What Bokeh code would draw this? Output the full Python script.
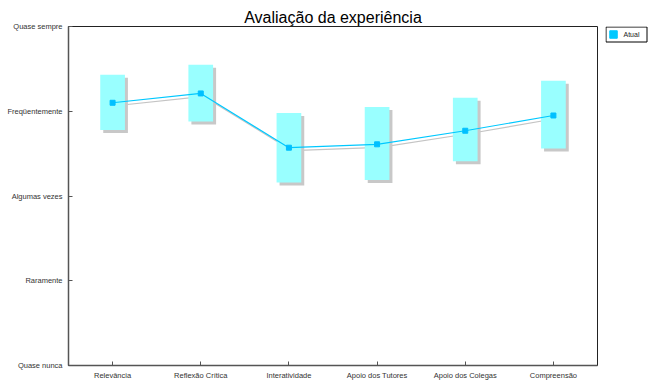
from bokeh.plotting import figure
from bokeh.layouts import row
from bokeh.models import ColumnDataSource, FactorRange, Range1d, FixedTicker
from bokeh.core.properties import value
from bokeh.transform import dodge
from bokeh.embed import file_html
from bokeh.resources import INLINE

categories = ["Relevância", "Reflexão Crítica", "Interatividade",
              "Apoio dos Tutores", "Apoio dos Colegas", "Compreensão"]
mean_values = [4.10, 4.21, 3.57, 3.61, 3.77, 3.95]
upper_values = [4.43, 4.55, 3.98, 4.05, 4.16, 4.36]
lower_values = [3.78, 3.88, 3.16, 3.19, 3.41, 3.56]
y_tick_values = [1, 2, 3, 4, 5]
y_tick_labels = ["Quase nunca", "Raramente", "Algumas vezes", "Freqüentemente", "Quase sempre"]
series_name = "Atual"

H = 389
FW, FH = 529, 339
LEFT, TOP = 68, 26
W1 = LEFT + FW + 8
W2 = 648 - W1

p = figure(width=W1, height=H, x_range=FactorRange(*categories), y_range=Range1d(1, 5),
           output_backend="svg", toolbar_location=None,
           title="Avaliação da experiência",
           min_border_left=LEFT, min_border_right=W1 - LEFT - FW, min_border_top=TOP,
           min_border_bottom=H - TOP - FH)
p.title.align = "center"
p.title.text_font = "Liberation Sans"
p.title.text_font_size = "16px"
p.title.text_font_style = "normal"
p.title.text_color = "#000000"
p.title.standoff = 1

src = ColumnDataSource(dict(cat=categories, mean=mean_values,
                            upper=upper_values, lower=lower_values))

dx = 3 / (FW / 6)
dy = -3 / (FH / 4)

# gray shadow line
p.line(x=dodge("cat", dx, range=p.x_range), y=dodge("mean", dy, range=p.y_range),
       source=src, line_color="#c4c4c4", line_width=1.2)
# shadow boxes
p.vbar(x=dodge("cat", dx, range=p.x_range), top=dodge("upper", dy, range=p.y_range),
       bottom=dodge("lower", dy, range=p.y_range), width=0.28, source=src,
       fill_color="#c8c8c8", line_color=None)
# boxes
p.vbar(x="cat", top="upper", bottom="lower", width=0.28, source=src,
       fill_color="#99ffff", line_color=None)
# line + markers
p.line(x="cat", y="mean", source=src, line_color="#00c8ff", line_width=1.2)
p.scatter(x="cat", y="mean", source=src, marker="square", size=5,
          fill_color="#00c0ff", line_color="#00c0ff")

p.xgrid.visible = False
p.ygrid.visible = False
p.outline_line_color = "#222222"
p.outline_line_width = 1

for ax in (p.xaxis, p.yaxis):
    ax.axis_line_color = "#555555"
    ax.axis_line_width = 1.5
    ax.major_tick_in = 4
    ax.major_tick_out = 0
    ax.minor_tick_line_color = None
    ax.major_tick_line_color = "#555555"
    ax.major_label_text_font = "Liberation Sans"
    ax.major_label_text_font_size = "7.5px"
    ax.major_label_text_color = "#333333"

p.xaxis.major_label_standoff = 5
p.yaxis.major_label_standoff = 6
p.yaxis.ticker = FixedTicker(ticks=y_tick_values)
p.yaxis.major_label_overrides = {v: l for v, l in zip(y_tick_values, y_tick_labels)}

# narrow legend panel to the right of the chart; its frame is aligned with the
# main frame by the row layout, so map page pixels (y downwards) onto it
p2 = figure(width=W2, height=H, output_backend="svg", toolbar_location=None, title=None,
            x_axis_location=None, y_axis_location=None, min_border=0,
            outline_line_color=None, x_range=Range1d(0, W2), y_range=Range1d(TOP + FH, TOP))
p2.xgrid.visible = False
p2.ygrid.visible = False
box_left, box_right, box_top, box_bottom = 0.5, 41.5, 26.5, 41.5
p2.quad(left=[box_left], right=[box_right], top=[box_top], bottom=[box_bottom],
        fill_color="#ffffff", line_color="#000000", line_width=1)
mid = (box_top + box_bottom) / 2
p2.scatter(x=[8], y=[mid], marker="square", size=7.5,
           fill_color="#00c8ff", line_color="#00c8ff")
p2.text(x=[18], y=[mid], text=[series_name], text_font=value("Liberation Sans"),
        text_font_size="7px", text_baseline="middle", text_align="left",
        text_color="#222222")

layout = row(p, p2, spacing=0)
open("out.html", "w").write(file_html(layout, INLINE))
